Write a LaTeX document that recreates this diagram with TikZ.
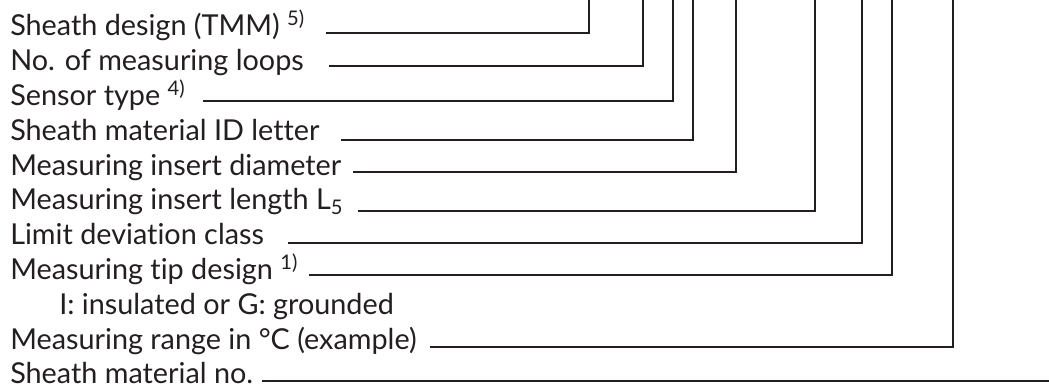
\documentclass[tikz,border=0pt]{standalone}
\usepackage{fontspec}
\setmainfont{Lato}[Ligatures=NoCommon]
\definecolor{ink}{HTML}{231F20}
\begin{document}
\begin{tikzpicture}
[x=0.75pt, y=-0.75pt,
 lbl/.style={anchor=base west, inner sep=0pt, text depth=0pt, text=ink, font=\fontsize{21.6}{26}\selectfont},
 lead/.style={draw=ink, line width=1.4pt, line cap=rect}]
\useasboundingbox (0,0) rectangle (1049,388);
% top ends of the leaders
\coordinate (t1) at (589,0);
\coordinate (t2) at (643,0);
\coordinate (t3) at (673,0);
\coordinate (t4) at (693,0);
\coordinate (t5) at (736,0);
\coordinate (t6) at (815,0);
\coordinate (t7) at (862,0);
\coordinate (t8) at (892,0);
\coordinate (t9) at (953,0);
\coordinate (edge) at (1049,0);
% labels
\node [lbl] (design) at (10,36) {Sheath design (TMM) \textsuperscript{5)}};
\node [lbl] (loops) at (10,70.8) {No. of measuring loops};
\node [lbl] (sensor) at (10,105.6) {Sensor type \textsuperscript{4)}};
\node [lbl] (letter) at (10,140.4) {Sheath material ID letter};
\node [lbl] (diam) at (10,175.2) {Measuring insert diameter};
\node [lbl] (len) at (10,210) {Measuring insert length L\textsubscript{5}};
\node [lbl] (class) at (10,244.8) {Limit deviation class};
\node [lbl] (tip) at (10,279.6) {Measuring tip design \textsuperscript{1)}};
\node [lbl] (tipnote) at (59,314.4) {I: insulated or G: grounded};
\node [lbl] (range) at (10,349.2) {Measuring range in °C (example)};
\node [lbl] (matno) at (10,383) {Sheath material no.};
% leaders
\draw [lead] ([shift={(22,-3)}]design.base east) -| (t1);
\draw [lead] ([shift={(26,-5)}]loops.base east) -| (t2);
\draw [lead] ([shift={(18,-5)}]sensor.base east) -| (t3);
\draw [lead] ([shift={(22,0)}]letter.base east) -| (t4);
\draw [lead] ([shift={(12,-3)}]diam.base east) -| (t5);
\draw [lead] ([shift={(15,1)}]len.base east) -| (t6);
\draw [lead] ([shift={(25,-2)}]class.base east) -| (t7);
\draw [lead] ([shift={(12,-5)}]tip.base east) -| (t8);
\draw [lead] ([shift={(14,-2)}]range.base east) -| (t9);
\draw [lead] ([shift={(9,-2)}]matno.base east) coordinate (m) -- (m -| edge);
\end{tikzpicture}
\end{document}
